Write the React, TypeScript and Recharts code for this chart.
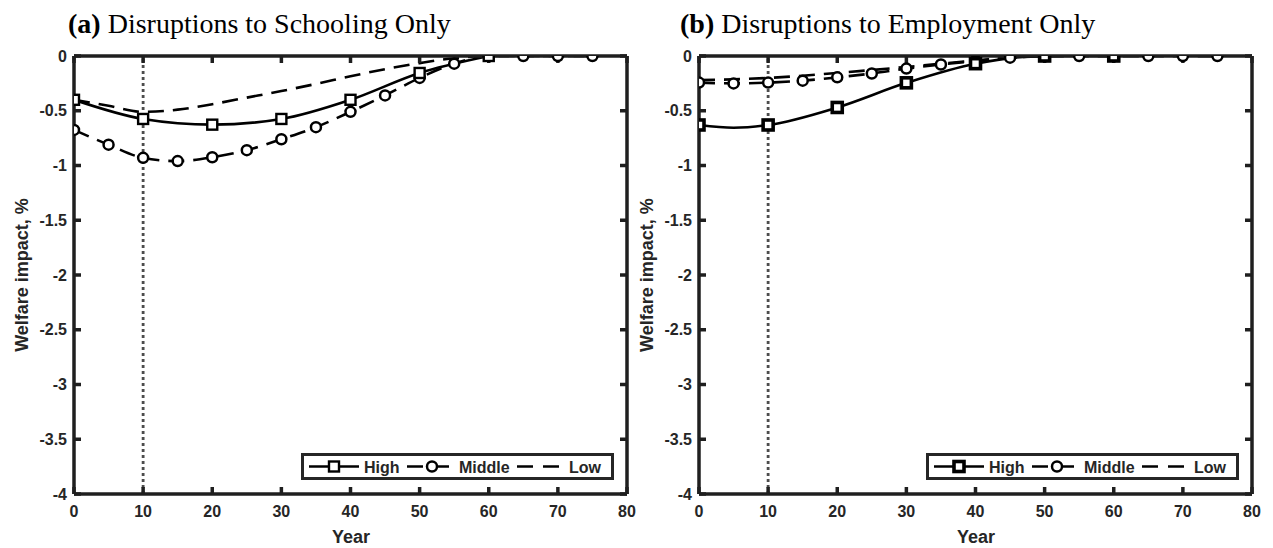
import React from 'react';
import { LineChart, Line, XAxis, YAxis, ReferenceLine, Legend } from 'recharts';

// ---------- data ----------
const years = [0, 5, 10, 15, 20, 25, 30, 35, 40, 45, 50, 55, 60, 65, 70, 75];
const xTicks = [0, 10, 20, 30, 40, 50, 60, 70, 80];
const yTicks = [0, -0.5, -1, -1.5, -2, -2.5, -3, -3.5, -4];
const seriesNames = ['High', 'Middle', 'Low'];

// Panel (a): Disruptions to Schooling Only
const schoolHigh = [-0.4, null, -0.575, null, -0.627, null, -0.575, null, -0.4, null, -0.155, null, 0, null, null, null];
const schoolMiddle = [-0.675, -0.81, -0.93, -0.96, -0.925, -0.86, -0.76, -0.65, -0.51, -0.36, -0.2, -0.07, 0, 0, 0, 0];
const schoolLow = [-0.4, -0.455, -0.51, -0.49, -0.44, -0.38, -0.32, -0.255, -0.185, -0.12, -0.065, -0.02, 0, 0, 0, 0];

// Panel (b): Disruptions to Employment Only
const employHigh = [-0.63, -0.655, -0.63, null, -0.47, null, -0.245, null, -0.07, null, 0, null, 0, null, null, null];
const employMiddle = [-0.243, -0.25, -0.243, -0.225, -0.195, -0.16, -0.115, -0.078, -0.045, -0.015, 0, 0, 0, 0, 0, 0];
const employLow = [-0.22, -0.213, -0.2, -0.18, -0.155, -0.128, -0.1, -0.07, -0.042, -0.015, -0.003, 0, 0, 0, 0, 0];

const titles = ['Disruptions to Schooling Only', 'Disruptions to Employment Only'];
const titleTags = ['(a)', '(b)'];

const build = (h: (number | null)[], m: (number | null)[], l: (number | null)[]) =>
  years.map((year, i) => ({ year, high: h[i], middle: m[i], low: l[i] }));

const schoolData = build(schoolHigh, schoolMiddle, schoolLow);
const employData = build(employHigh, employMiddle, employLow);

// ---------- styles ----------
const AXIS = '#262626';
const SANS = '"Liberation Sans", Arial, Helvetica, sans-serif';
const SERIF = '"Liberation Serif", "Times New Roman", serif';
const DASH = '16 9';

const tickText = { fill: AXIS, fontSize: 16, fontWeight: 700, fontFamily: SANS };
const NoTick = () => <g />;
const axisProps: any = { axisLine: true, tickLine: true, stroke: '#1f1f1f', strokeWidth: 3.5 };

const makeSquareDot = (sw: number, size: number) => (props: any) => {
  const { cx, cy, value, payload, index } = props;
  if (value == null || cx == null || cy == null || payload.year % 10 !== 0) return <g key={`sq${index}`} />;
  return (
    <rect key={`sq${index}`} x={cx - size / 2} y={cy - size / 2} width={size} height={size}
      fill="#fff" stroke="#000" strokeWidth={sw} />
  );
};

const CircleDot = (props: any) => {
  const { cx, cy, value, index } = props;
  if (value == null || cx == null || cy == null) return <g key={`c${index}`} />;
  return <circle key={`c${index}`} cx={cx} cy={cy} r={5} fill="#fff" stroke="#000" strokeWidth={2.5} />;
};

const LegendBox = ({ sqStroke, sqSize }: { sqStroke: number; sqSize: number }) => (
  <svg width={313} height={27} style={{ display: 'block' }}>
    <rect x={1.5} y={1.5} width={310} height={24} fill="#fff" stroke={AXIS} strokeWidth={3} />
    <line x1={8} x2={58} y1={13.5} y2={13.5} stroke="#000" strokeWidth={2.5} />
    <rect x={33 - sqSize / 2} y={13.5 - sqSize / 2} width={sqSize} height={sqSize} fill="#fff" stroke="#000" strokeWidth={sqStroke} />
    <text x={63} y={19.5} style={tickText as any} fill="#000">{seriesNames[0]}</text>
    <line x1={106} x2={156} y1={13.5} y2={13.5} stroke="#000" strokeWidth={2.5} strokeDasharray="16 10" />
    <circle cx={131} cy={13.5} r={5} fill="#fff" stroke="#000" strokeWidth={2.5} />
    <text x={158} y={19.5} style={tickText as any} fill="#000">{seriesNames[1]}</text>
    <line x1={216} x2={266} y1={13.5} y2={13.5} stroke="#000" strokeWidth={2.5} strokeDasharray="16 10" />
    <text x={268} y={19.5} style={tickText as any} fill="#000">{seriesNames[2]}</text>
  </svg>
);

function Panel({ data, sqStroke, sqSize }: { data: any[]; sqStroke: number; sqSize: number }) {
  return (
    <LineChart width={640} height={548} data={data} margin={{ top: 55, right: 12, bottom: 24, left: 24 }}>
      <XAxis xAxisId="b" dataKey="year" type="number" domain={[0, 80]} ticks={xTicks} interval={0}
        tickSize={-7} tickMargin={19} height={30} {...axisProps} tick={tickText} allowDataOverflow />
      <XAxis xAxisId="t" orientation="top" dataKey="year" type="number" domain={[0, 80]} ticks={xTicks} interval={0}
        tickSize={-7} height={1} {...axisProps} tick={NoTick} allowDataOverflow />
      <YAxis yAxisId="l" type="number" domain={[-4, 0]} ticks={yTicks} interval={0}
        tickSize={-7} tickMargin={14} width={50} {...axisProps} tick={tickText} allowDataOverflow />
      <YAxis yAxisId="r" orientation="right" type="number" domain={[-4, 0]} ticks={yTicks} interval={0}
        tickSize={-7} width={1} {...axisProps} tick={NoTick} allowDataOverflow />
      <ReferenceLine xAxisId="b" yAxisId="l" x={10} stroke="#4d4d4d" strokeWidth={2.8} strokeDasharray="3 3" />
      <Line xAxisId="b" yAxisId="l" type="monotone" dataKey="low" name={seriesNames[2]} stroke="#000"
        strokeWidth={2.6} strokeDasharray={DASH} dot={false} isAnimationActive={false} />
      <Line xAxisId="b" yAxisId="l" type="monotone" dataKey="middle" name={seriesNames[1]} stroke="#000"
        strokeWidth={2.6} strokeDasharray={DASH} dot={CircleDot} isAnimationActive={false} />
      <Line xAxisId="b" yAxisId="l" type="monotone" dataKey="high" name={seriesNames[0]} stroke="#000"
        strokeWidth={2.6} connectNulls dot={makeSquareDot(sqStroke, sqSize)} isAnimationActive={false} />
      <Legend layout="horizontal" verticalAlign="middle" align="center"
        wrapperStyle={{ left: 301, top: 453, width: 313, height: 27 }}
        content={() => <LegendBox sqStroke={sqStroke} sqSize={sqSize} />} />
    </LineChart>
  );
}

export default function App() {
  return (
    <div style={{ position: 'absolute', left: 0, top: 0, width: 1273, height: 548, background: '#fff', overflow: 'hidden' }}>
      <div style={{ position: 'absolute', left: 0, top: 0 }}>
        <Panel data={schoolData} sqStroke={2.4} sqSize={10} />
      </div>
      <div style={{ position: 'absolute', left: 625, top: 0 }}>
        <Panel data={employData} sqStroke={3.6} sqSize={10} />
      </div>
      <svg width={1273} height={548} style={{ position: 'absolute', left: 0, top: 0, pointerEvents: 'none' }}>
        {[0, 1].map((p) => (
          <g key={p}>
            <text x={68 + p * 612} y={33} fontFamily={SERIF} fontSize={28} fill="#000">
              <tspan fontWeight={700}>{titleTags[p]}</tspan>
              <tspan dx={7}>{titles[p]}</tspan>
            </text>
            <text x={28 + p * 625} y={275} transform={`rotate(-90, ${28 + p * 625}, 275)`} textAnchor="middle"
              fontFamily={SANS} fontWeight={700} fontSize={18} fill={AXIS}>Welfare impact, %</text>
            <text x={351 + p * 625} y={543} textAnchor="middle" fontFamily={SANS} fontWeight={700} fontSize={18}
              fill={AXIS}>Year</text>
          </g>
        ))}
      </svg>
    </div>
  );
}
